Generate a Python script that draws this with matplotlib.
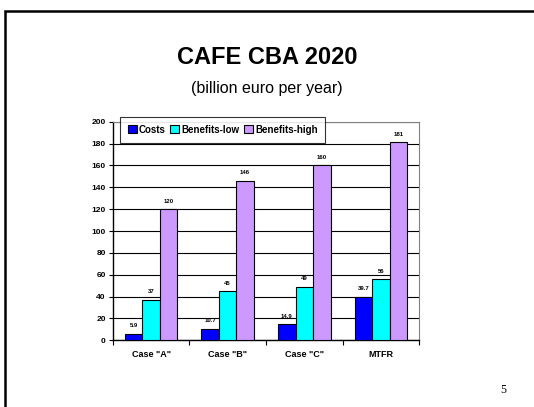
import numpy as np
import matplotlib
matplotlib.use('Agg')
import matplotlib.pyplot as plt
from matplotlib.patches import Rectangle

# data
categories = ['Case "A"', 'Case "B"', 'Case "C"', 'MTFR']
costs = [5.9, 10.7, 14.9, 39.7]
benefits_low = [37, 45, 49, 56]
benefits_high = [120, 146, 160, 181]
cost_labels = ['5.9', '10.7', '14.9', '39.7']
low_labels = ['37', '45', '49', '56']
high_labels = ['120', '146', '160', '181']
series_names = ['Costs', 'Benefits-low', 'Benefits-high']
y_ticks = [0, 20, 40, 60, 80, 100, 120, 140, 160, 180, 200]

plt.rcParams['font.family'] = ['Liberation Sans', 'DejaVu Sans']

W, H = 534, 407
fig = plt.figure(figsize=(W / 100, H / 100), dpi=100)
fig.patch.set_facecolor('white')

# slide frame (runs off the right/bottom edge)
frame = Rectangle((5 / W, -0.1), 1.2, 1 - 11 / H + 0.1, transform=fig.transFigure,
                  fill=False, edgecolor='black', linewidth=1.8)
fig.patches.append(frame)

# titles
fig.text(0.5, 1 - 57 / H, 'CAFE CBA 2020', ha='center', va='center',
         fontsize=17, fontweight='bold')
fig.text(0.5, 1 - 88 / H, '(billion euro per year)', ha='center', va='center',
         fontsize=11.5)
fig.text(503 / W, 1 - 390 / H, '5', ha='center', va='center', fontsize=8.5,
         family=['Liberation Serif', 'DejaVu Serif'])

# chart axes
ax = fig.add_axes([112.7 / W, 1 - 340.3 / H, (419.3 - 112.7) / W, (340.3 - 121.7) / H])
x = np.arange(len(categories))
bw = 0.228
colors = ['#0000FF', '#00FFFF', '#CC99FF']
all_vals = [costs, benefits_low, benefits_high]
all_labels = [cost_labels, low_labels, high_labels]
for i, (vals, labs, c, name) in enumerate(zip(all_vals, all_labels, colors, series_names)):
    pos = x + (i - 1) * bw
    ax.bar(pos, vals, width=bw, color=c, edgecolor='black', linewidth=0.8,
           label=name, zorder=3)
    for p, v, t in zip(pos, vals, labs):
        ax.text(p, v + 5, t, ha='center', va='bottom', fontsize=4.3,
                fontweight='bold', zorder=4)

ax.set_xlim(-0.5, len(categories) - 0.5)
ax.set_ylim(0, 200)
ax.set_yticks(y_ticks)
ax.set_yticklabels([str(t) for t in y_ticks], fontsize=6, fontweight='bold')
ax.yaxis.grid(True, color='black', linewidth=0.8, zorder=0)
ax.tick_params(axis='y', length=3, width=0.8, pad=2)

# category labels centered, ticks between categories
ax.set_xticks(np.arange(len(categories) + 1) - 0.5)
ax.set_xticklabels([''] * (len(categories) + 1))
ax.tick_params(axis='x', length=3.5, width=0.8, direction='out')
for xi, cat in zip(x, categories):
    ax.text(xi, -9, cat, ha='center', va='top', fontsize=6.5, fontweight='bold')

for side in ['top', 'right']:
    ax.spines[side].set_color('#808080')
    ax.spines[side].set_linewidth(0.8)
for side in ['left', 'bottom']:
    ax.spines[side].set_color('black')
    ax.spines[side].set_linewidth(1.0)

leg = fig.legend(loc='upper left', bbox_to_anchor=(120 / W, 1 - 117 / H), ncol=3,
                 prop={'weight': 'bold', 'size': 7},
                 frameon=True, fancybox=False, edgecolor='black',
                 handlelength=0.9, handleheight=0.9, handletextpad=0.25,
                 columnspacing=0.45, borderpad=0.8, borderaxespad=0)
leg.get_frame().set_linewidth(0.8)

fig.savefig('out.png', dpi=100, facecolor='white')
